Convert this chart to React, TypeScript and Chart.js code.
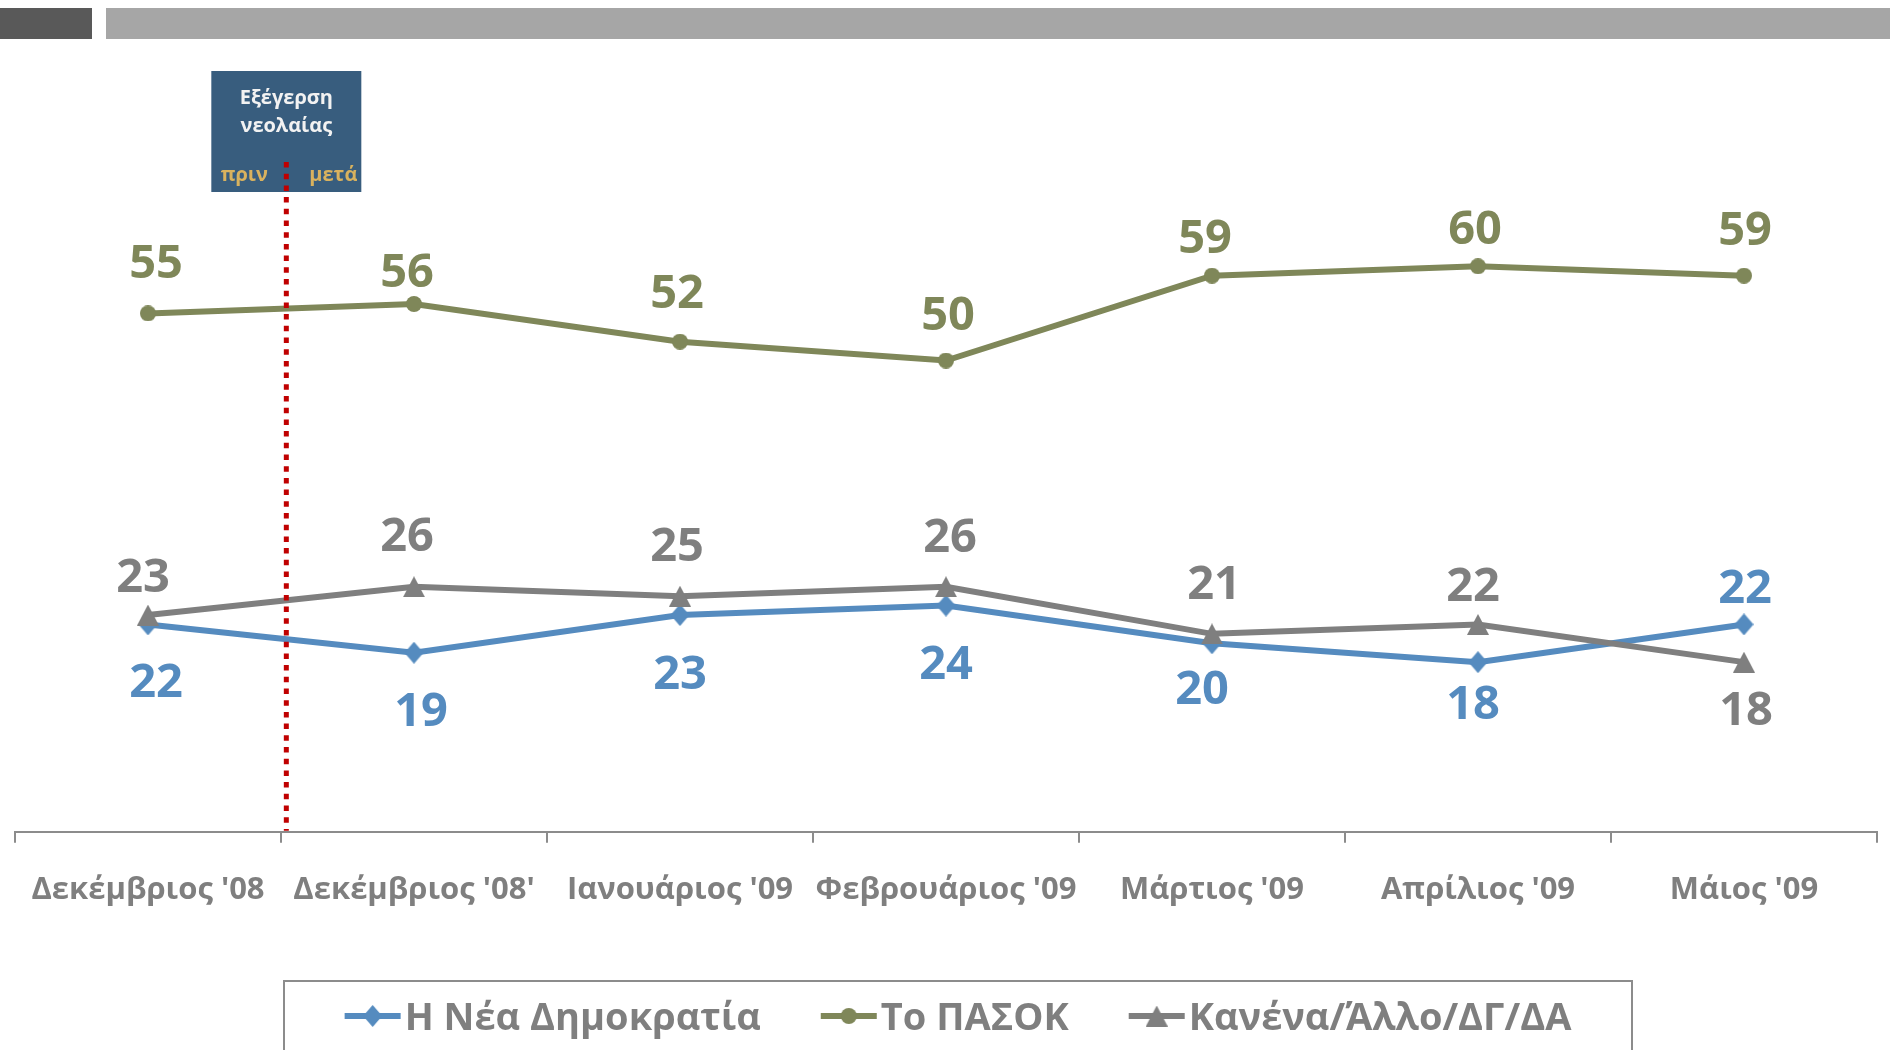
import React, { useEffect, useRef } from "react";
import { Chart, registerables } from "chart.js";

Chart.register(...registerables);

const categories = [
  "Δεκέμβριος '08",
  "Δεκέμβριος '08'",
  "Ιανουάριος '09",
  "Φεβρουάριος '09",
  "Μάρτιος '09",
  "Απρίλιος '09",
  "Μάιος '09",
];
const seriesNames = ["Η Νέα Δημοκρατία", "Το ΠΑΣΟΚ", "Κανένα/Άλλο/ΔΓ/ΔΑ"];
const ndValues = [22, 19, 23, 24, 20, 18, 22];
const pasokValues = [55, 56, 52, 50, 59, 60, 59];
const otherValues = [23, 26, 25, 26, 21, 22, 18];

// label nudges (style): [dx, dy] of label centre relative to its point
const ndLabelNudge = [[8, 56], [7, 56], [0, 57], [0, 56], [-10, 44], [-5, 40], [1, -38]];
const pasokLabelNudge = [[8, -52], [-7, -34], [-3, -51], [2, -48], [-7, -40], [-3, -39], [1, -48]];
const otherLabelNudge = [[-5, -40], [-7, -53], [-3, -52], [4, -52], [2, -52], [-5, -40], [2, 46]];

const BLUE = "#558BBF";
const OLIVE = "#7F8759";
const GREY = "#7F7F7F";
const FONT = "'Open Sans', 'Noto Sans', sans-serif";

function makeDiamond(color: string, w: number, h: number) {
  const c = document.createElement("canvas");
  c.width = w;
  c.height = h;
  const x = c.getContext("2d")!;
  x.fillStyle = color;
  x.beginPath();
  x.moveTo(w / 2, 0);
  x.lineTo(w, h / 2);
  x.lineTo(w / 2, h);
  x.lineTo(0, h / 2);
  x.closePath();
  x.fill();
  return c;
}
function makeTriangle(color: string, w: number, h: number) {
  const c = document.createElement("canvas");
  c.width = w;
  c.height = h;
  const x = c.getContext("2d")!;
  x.fillStyle = color;
  x.beginPath();
  x.moveTo(w / 2, 0);
  x.lineTo(w, h);
  x.lineTo(0, h);
  x.closePath();
  x.fill();
  return c;
}
function makeCircle(color: string, d: number) {
  const c = document.createElement("canvas");
  c.width = d;
  c.height = d;
  const x = c.getContext("2d")!;
  x.fillStyle = color;
  x.beginPath();
  x.arc(d / 2, d / 2, d / 2, 0, Math.PI * 2);
  x.fill();
  return c;
}

export default function App() {
  const ref = useRef<HTMLCanvasElement | null>(null);

  useEffect(() => {
    const canvas = ref.current!;
    const diamond = makeDiamond(BLUE, 19, 22);
    const circle = makeCircle(OLIVE, 16);
    const triangle = makeTriangle(GREY, 22, 21);
    const markers = [diamond, circle, triangle];
    const nudges = [ndLabelNudge, pasokLabelNudge, otherLabelNudge];

    const backgroundPlugin = {
      id: "bg",
      beforeDraw(chart: any) {
        const ctx = chart.ctx;
        ctx.save();
        ctx.fillStyle = "#ffffff";
        ctx.fillRect(0, 0, chart.width, chart.height);
        ctx.fillStyle = "#595959";
        ctx.fillRect(0, 8, 92, 31);
        ctx.fillStyle = "#A6A6A6";
        ctx.fillRect(106, 8, chart.width - 106, 31);
        ctx.restore();
      },
    };

    const eventPlugin = {
      id: "event",
      afterDatasetsDraw(chart: any) {
        const ctx = chart.ctx;
        const xs = chart.scales.x;
        const x = xs.getPixelForValue(0.52);
        ctx.save();
        // box
        ctx.fillStyle = "#385D7E";
        ctx.fillRect(x - 75, 71, 150, 121);
        ctx.fillStyle = "#F2F2F2";
        ctx.textAlign = "center";
        ctx.textBaseline = "alphabetic";
        ctx.font = `bold 20px ${FONT}`;
        ctx.fillText("Εξέγερση", x, 104);
        ctx.fillText("νεολαίας", x, 132);
        ctx.fillStyle = "#D9B25E";
        ctx.font = `bold 20px ${FONT}`;
        ctx.fillText("πριν", x - 42, 181);
        ctx.fillText("μετά", x + 47, 181);
        // dotted line
        ctx.strokeStyle = "#C00000";
        ctx.lineWidth = 5;
        ctx.setLineDash([5.5, 6.2]);
        ctx.beginPath();
        ctx.moveTo(x, 162);
        ctx.lineTo(x, chart.chartArea.bottom - 1);
        ctx.stroke();
        ctx.restore();

        // data labels
        ctx.save();
        ctx.font = `bold 47px ${FONT}`;
        ctx.textAlign = "center";
        ctx.textBaseline = "alphabetic";
        chart.data.datasets.forEach((ds: any, di: number) => {
          const meta = chart.getDatasetMeta(di);
          ctx.fillStyle = ds.borderColor;
          meta.data.forEach((pt: any, i: number) => {
            const [dx, dy] = nudges[di][i];
            ctx.fillText(String(ds.data[i]), pt.x + dx, pt.y + dy + 17);
          });
        });
        ctx.restore();
      },
    };

    const legendPlugin = {
      id: "customLegend",
      afterDraw(chart: any) {
        const ctx = chart.ctx;
        ctx.save();
        ctx.strokeStyle = "#8C8C8C";
        ctx.lineWidth = 2;
        ctx.strokeRect(284, 981, 1348, 120);
        ctx.font = `bold 38px ${FONT}`;
        const lineW = 56;
        const gapTxt = 4;
        const gapItem = 60;
        const widths = chart.data.datasets.map(
          (ds: any) => lineW + gapTxt + ctx.measureText(ds.label).width
        );
        const total = widths.reduce((a: number, b: number) => a + b, 0) + gapItem * (widths.length - 1);
        let sx = 958 - total / 2;
        const cy = 1016;
        chart.data.datasets.forEach((ds: any, di: number) => {
          ctx.strokeStyle = ds.borderColor;
          ctx.lineWidth = 6;
          ctx.beginPath();
          ctx.moveTo(sx, cy);
          ctx.lineTo(sx + lineW, cy);
          ctx.stroke();
          const m = markers[di];
          ctx.drawImage(m, sx + lineW / 2 - m.width / 2, cy - m.height / 2);
          ctx.fillStyle = GREY;
          ctx.textAlign = "left";
          ctx.textBaseline = "alphabetic";
          ctx.fillText(ds.label, sx + lineW + gapTxt, cy + 14);
          sx += widths[di] + gapItem;
        });
        ctx.restore();
      },
    };

    const chart = new Chart(canvas, {
      type: "line",
      data: {
        labels: categories,
        datasets: [
          {
            label: seriesNames[0],
            data: ndValues,
            borderColor: BLUE,
            backgroundColor: BLUE,
            borderWidth: 6,
            pointStyle: diamond as any,
            pointRadius: 10,
            order: 2,
          },
          {
            label: seriesNames[1],
            data: pasokValues,
            borderColor: OLIVE,
            backgroundColor: OLIVE,
            borderWidth: 6,
            pointStyle: circle as any,
            pointRadius: 8,
            order: 1,
          },
          {
            label: seriesNames[2],
            data: otherValues,
            borderColor: GREY,
            backgroundColor: GREY,
            borderWidth: 6,
            pointStyle: triangle as any,
            pointRadius: 11,
            order: 0,
          },
        ],
      },
      options: {
        responsive: false,
        animation: false,
        events: [],
        layout: { autoPadding: false, padding: { left: 15, right: 13, top: 172, bottom: 112 } },
        plugins: {
          legend: { display: false },
          tooltip: { enabled: false },
        },
        scales: {
          x: {
            offset: true,
            grid: {
              display: true,
              offset: true,
              drawOnChartArea: false,
              drawTicks: true,
              tickLength: 11,
              color: "#8C8C8C",
              lineWidth: 2,
            },
            border: { display: true, color: "#8C8C8C", width: 2 },
            ticks: {
              color: GREY,
              font: { family: FONT, size: 31, weight: "bold" },
              padding: 29,
              maxRotation: 0,
              autoSkip: false,
            },
          },
          y: {
            display: false,
            min: 0,
            max: 70,
          },
        },
      },
      plugins: [backgroundPlugin, eventPlugin, legendPlugin],
    });

    return () => chart.destroy();
  }, []);

  return (
    <div style={{ position: "absolute", left: 0, top: 0, width: 1890, height: 1050, overflow: "hidden" }}>
      <canvas ref={ref} width={1890} height={1050} style={{ display: "block" }} />
    </div>
  );
}
